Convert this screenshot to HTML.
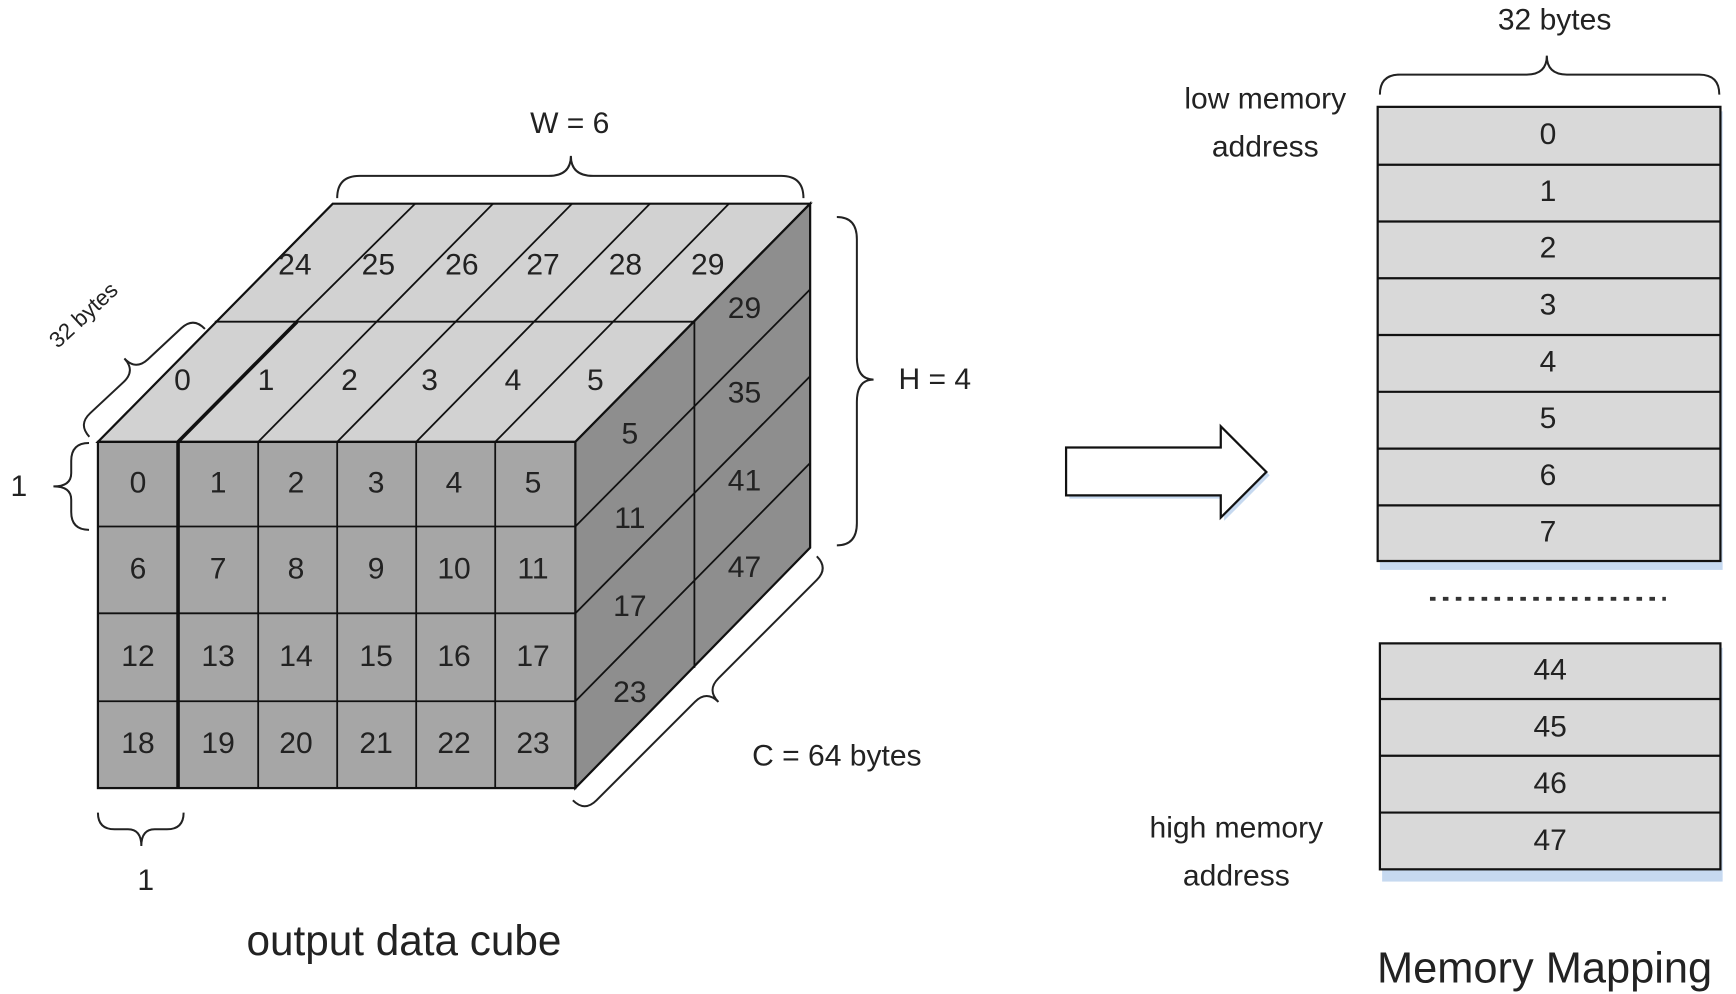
<!DOCTYPE html>
<html><head><meta charset="utf-8"><style>html,body{margin:0;padding:0;background:#fff}svg{display:block}</style></head>
<body>
<svg width="1736" height="994" viewBox="0 0 1560 893" preserveAspectRatio="none" xmlns="http://www.w3.org/2000/svg" font-family="'Liberation Sans', sans-serif" fill="#222">
<!-- cube faces -->
<polygon points="88,397 517,397 728,183 299,183" fill="#d2d2d2" stroke="#111" stroke-width="2"/>
<polygon points="517,397 728,183 728,492 517,708" fill="#8e8e8e" stroke="#111" stroke-width="2"/>
<rect x="88" y="397" width="429" height="311" fill="#a6a6a6" stroke="#111" stroke-width="2"/>
<g stroke="#111" stroke-width="1.6" fill="none">
<line x1="232" y1="397" x2="232" y2="708"/><line x1="303" y1="397" x2="303" y2="708"/>
<line x1="374" y1="397" x2="374" y2="708"/><line x1="445" y1="397" x2="445" y2="708"/>
<line x1="88" y1="473" x2="517" y2="473"/><line x1="88" y1="551" x2="517" y2="551"/><line x1="88" y1="630" x2="517" y2="630"/>
<line x1="193" y1="289" x2="624" y2="289"/>
<line x1="266" y1="289" x2="373" y2="183"/>
<line x1="232" y1="397" x2="443" y2="183"/><line x1="303" y1="397" x2="514" y2="183"/>
<line x1="374" y1="397" x2="584" y2="183"/><line x1="445" y1="397" x2="655" y2="183"/>
<line x1="517" y1="397" x2="728" y2="183"/>
<line x1="624" y1="289" x2="624" y2="600"/>
<line x1="517" y1="473" x2="728" y2="260"/><line x1="517" y1="551" x2="728" y2="338"/><line x1="517" y1="630" x2="728" y2="416"/>
</g>
<g stroke="#111" stroke-width="3.2" fill="none">
<line x1="160" y1="397" x2="160" y2="708"/><line x1="160" y1="397" x2="267" y2="289"/>
</g>
<g font-size="27" text-anchor="middle" dominant-baseline="central">
<text x="124" y="434">0</text><text x="196" y="434">1</text><text x="266" y="434">2</text><text x="338" y="434">3</text><text x="408" y="434">4</text><text x="479" y="434">5</text>
<text x="124" y="511">6</text><text x="196" y="511">7</text><text x="266" y="511">8</text><text x="338" y="511">9</text><text x="408" y="511">10</text><text x="479" y="511">11</text>
<text x="124" y="590">12</text><text x="196" y="590">13</text><text x="266" y="590">14</text><text x="338" y="590">15</text><text x="408" y="590">16</text><text x="479" y="590">17</text>
<text x="124" y="668">18</text><text x="196" y="668">19</text><text x="266" y="668">20</text><text x="338" y="668">21</text><text x="408" y="668">22</text><text x="479" y="668">23</text>
<text x="164" y="342">0</text><text x="239" y="342">1</text><text x="314" y="342">2</text><text x="386" y="342">3</text><text x="461" y="342">4</text><text x="535" y="342">5</text>
<text x="265" y="238">24</text><text x="340" y="238">25</text><text x="415" y="238">26</text><text x="488" y="238">27</text><text x="562" y="238">28</text><text x="636" y="238">29</text>
<text x="566" y="390">5</text><text x="566" y="466">11</text><text x="566" y="545">17</text><text x="566" y="622">23</text>
<text x="669" y="277">29</text><text x="669" y="353">35</text><text x="669" y="432">41</text><text x="669" y="510">47</text>
</g>
<g stroke="#222" stroke-width="1.8" fill="none">
<path d="M303,178 Q303,158 323,158 L493,158 Q513,158 513,140 Q513,158 533,158 L702,158 Q722,158 722,178"/>
<path d="M1240,85 Q1240,67 1258,67 L1372,67 Q1390,67 1390,50 Q1390,67 1408,67 L1527,67 Q1545,67 1545,85"/>
<path d="M752,195 Q770,195 770,215 L770,321 Q770,341 785,341 Q770,341 770,361 L770,470 Q770,490 752,490"/>
<path d="M80,398 Q64,398 64,414 L64,425 Q64,437 48,437 Q64,437 64,449 L64,460 Q64,476 80,476"/>
<path d="M88,730 Q88,745 103,745 L115,745 Q127,745 127,760 Q127,745 139,745 L150,745 Q165,745 165,730"/>
<path transform="translate(122,333) rotate(-43)" d="M-71,15 Q-71,0 -56,0 L-15,0 Q0,0 0,-15 Q0,0 15,0 L56,0 Q71,0 71,15"/>
<path transform="translate(635,620) rotate(-45)" d="M-155,-15 Q-155,0 -140,0 L-15,0 Q0,0 0,15 Q0,0 15,0 L140,0 Q155,0 155,-15"/>
</g>
<g font-size="27" text-anchor="middle" dominant-baseline="central">
<text x="512" y="111">W = 6</text>
<text x="840" y="341">H = 4</text>
<text x="752" y="679">C = 64 bytes</text>
<text x="17" y="437">1</text>
<text x="131" y="791">1</text>
<text x="1397" y="18">32 bytes</text>
<text x="1137" y="89">low memory</text><text x="1137" y="132">address</text>
<text x="1111" y="744">high memory</text><text x="1111" y="787">address</text>
<text x="363" y="845" font-size="38">output data cube</text>
<text x="1388" y="870" font-size="39">Memory Mapping</text>
<text x="75" y="283" font-size="20" transform="rotate(-43 75 283)">32 bytes</text>
</g>
<polygon points="961,405 1100,405 1100,386 1141,427 1100,468 1100,448 961,448" fill="#c6d9f0"/>
<polygon points="958,402 1097,402 1097,383 1138,424 1097,465 1097,445 958,445" fill="#fff" stroke="#111" stroke-width="2"/>
<rect x="1240" y="100" width="308" height="412" fill="#c6d9f0"/>
<rect x="1242" y="582" width="306" height="210" fill="#c6d9f0"/>
<g fill="#d9d9d9" stroke="#111" stroke-width="2">
<rect x="1238" y="96" width="308" height="408"/>
<rect x="1240" y="578" width="306" height="203"/>
</g>
<g stroke="#111" stroke-width="2">
<line x1="1238" y1="148" x2="1546" y2="148"/><line x1="1238" y1="199" x2="1546" y2="199"/>
<line x1="1238" y1="250" x2="1546" y2="250"/><line x1="1238" y1="301" x2="1546" y2="301"/>
<line x1="1238" y1="352" x2="1546" y2="352"/><line x1="1238" y1="403" x2="1546" y2="403"/>
<line x1="1238" y1="454" x2="1546" y2="454"/>
<line x1="1240" y1="628" x2="1546" y2="628"/><line x1="1240" y1="679" x2="1546" y2="679"/><line x1="1240" y1="730" x2="1546" y2="730"/>
</g>
<line x1="1285" y1="538" x2="1497" y2="538" stroke="#333" stroke-width="3.5" stroke-dasharray="5,6.6"/>
<g font-size="27" text-anchor="middle" dominant-baseline="central">
<text x="1391" y="121">0</text><text x="1391" y="172">1</text><text x="1391" y="223">2</text><text x="1391" y="274">3</text>
<text x="1391" y="325">4</text><text x="1391" y="376">5</text><text x="1391" y="427">6</text><text x="1391" y="478">7</text>
<text x="1393" y="602">44</text><text x="1393" y="653">45</text><text x="1393" y="704">46</text><text x="1393" y="755">47</text>
</g>
</svg>
</body></html>
